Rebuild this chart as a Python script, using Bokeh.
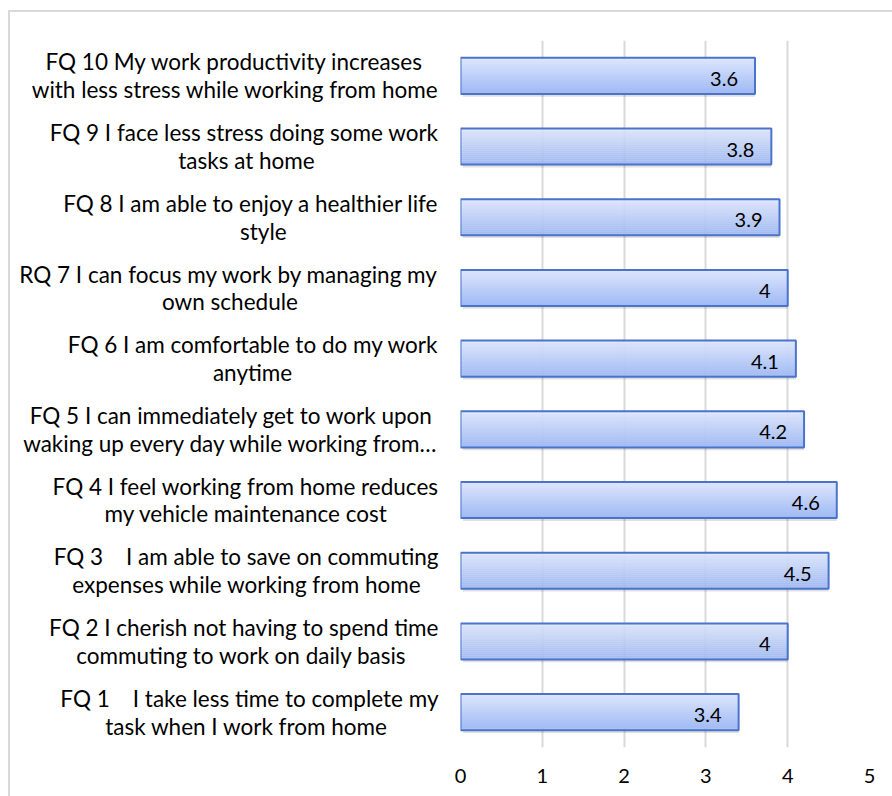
from bokeh.plotting import figure
from bokeh.models import Range1d, FactorRange, ColumnDataSource, FixedTicker
from bokeh.transform import dodge
from bokeh.core.properties import value
from bokeh.embed import file_html
from bokeh.resources import INLINE

# Data (bottom to top): category label = (first line, second line)
line1 = [
    "FQ 1\u00a0\u00a0\u00a0 I take less time to complete my",
    "FQ 2 I cherish not having to spend time",
    "FQ 3\u00a0\u00a0\u00a0 I am able to save on commuting",
    "FQ 4 I feel working from home reduces",
    "FQ 5 I can immediately get to work upon",
    "FQ 6 I am comfortable to do my work",
    "RQ 7 I can focus my work by managing my",
    "FQ 8 I am able to enjoy a healthier life",
    "FQ 9 I face less stress doing some work",
    "FQ 10 My work productivity increases",
]
line2 = [
    "task when I work from home",
    "commuting to work on daily basis",
    "expenses while working from home",
    "my vehicle maintenance cost",
    "waking up every day while working from\u2026",
    "anytime",
    "own schedule",
    "style",
    "tasks at home",
    "with less stress while working from home",
]
scores = [3.4, 4, 4.5, 4.6, 4.2, 4.1, 4, 3.9, 3.8, 3.6]
score_text = ["3.4", "4", "4.5", "4.6", "4.2", "4.1", "4", "3.9", "3.8", "3.6"]
x_ticks = [0, 1, 2, 3, 4, 5]

# --- styling: trailing fixed-width spaces (kept by a zero-width end mark)
# so that the two lines of each right-aligned label look centred ---
EM, EN, QU, SX, END = "\u2003", "\u2002", "\u2005", "\u2006", "\u200b"
pad1 = ["", "", "", "", QU, "", "", "", "", EN + SX]
pad2 = [2 * EM + EN + QU, EM + EN + SX, EN + QU, 2 * EM + EN + QU, "",
        8 * EM + EN, 8 * EM + QU, 9 * EM, 7 * EM + QU, ""]


def _pad(s):
    return s + END if s else ""


categories = [a + _pad(p1) + "\n" + b + _pad(p2)
              for a, b, p1, p2 in zip(line1, line2, pad1, pad2)]

FONT = "Lato"
W, H = 892, 796
src = ColumnDataSource(dict(cat=categories, val=scores, txt=score_text))

p = figure(
    width=W, height=H,
    y_range=FactorRange(factors=categories, range_padding=0),
    x_range=Range1d(0, 5),
    output_backend="svg", toolbar_location=None,
    min_border_left=460, min_border_right=23,
    min_border_top=40, min_border_bottom=49,
)
p.outline_line_color = None
p.background_fill_color = None
p.border_fill_color = None
# light grey chart-area border (runs off the right and bottom edges)
p.styles = {
    "background": ("linear-gradient(#d9d9d9,#d9d9d9) 9px 10px / 100% 2px no-repeat, "
                   "linear-gradient(#d9d9d9,#d9d9d9) 8px 10px / 2px 100% no-repeat, white"),
}

BAR_H = 0.51
# shadow
p.hbar(y=dodge("cat", -0.04, range=p.y_range), left=0.03, right="val", height=BAR_H,
       source=src, fill_color="#000000", fill_alpha=0.12, line_color=None)

# gradient fill via thin slices
N = 18
top_c = (0xdc, 0xe5, 0xfd)
bot_c = (0xa0, 0xba, 0xf4)
for i in range(N):
    t = i / (N - 1)
    c = tuple(int(round(top_c[k] + (bot_c[k] - top_c[k]) * t)) for k in range(3))
    col = "#%02x%02x%02x" % c
    off = BAR_H / 2 - (i + 0.5) * BAR_H / N
    p.hbar(y=dodge("cat", off, range=p.y_range), left=0, right="val",
           height=BAR_H / N * 1.05, source=src, fill_color=col, line_color=None)

# outline
p.hbar(y="cat", left=0, right="val", height=BAR_H, source=src,
       fill_color=None, line_color="#4a74cc", line_width=2)

p.text(x="val", y="cat", text="txt", source=src, x_offset=-17, y_offset=3,
       text_align="right", text_baseline="middle",
       text_font=value(FONT), text_font_size="20px", text_color="#000000")

p.xgrid.grid_line_color = "#d9d9d9"
p.xgrid.grid_line_width = 2
p.ygrid.grid_line_color = None
p.xaxis.ticker = FixedTicker(ticks=x_ticks)

for ax in (p.xaxis[0], p.yaxis[0]):
    ax.axis_line_color = None
    ax.major_tick_line_color = None
    ax.minor_tick_line_color = None
    ax.major_label_text_font = FONT
    ax.major_label_text_color = "#000000"

p.xaxis.major_label_text_font_size = "20px"
p.xaxis.major_label_standoff = 15
p.yaxis.major_label_text_font_size = "22.5px"
p.yaxis.major_label_text_line_height = 1.03
p.yaxis.major_label_standoff = 16

open("out.html", "w").write(file_html(p, INLINE))
